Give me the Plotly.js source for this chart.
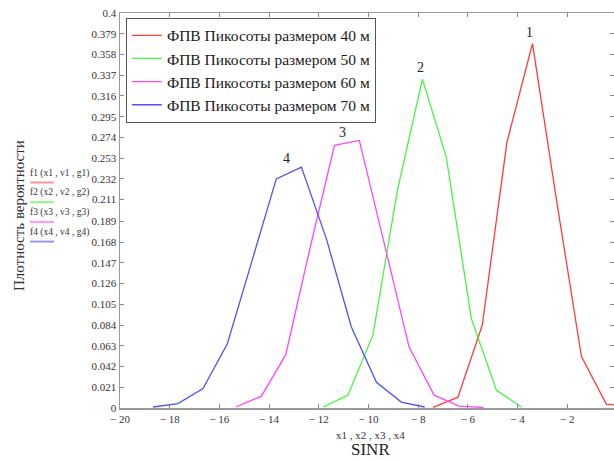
<!DOCTYPE html>
<html>
<head>
<meta charset="utf-8">
<script src="https://cdn.plot.ly/plotly-3.0.1.min.js"></script>
<style>html,body{margin:0;padding:0;background:#fff;}#chart{width:614px;height:460px;}</style>
</head>
<body>
<div id="chart"></div>
<script>
// Series data
var seriesNames = ["ФПВ Пикосоты размером 40 м", "ФПВ Пикосоты размером 50 м", "ФПВ Пикосоты размером 60 м", "ФПВ Пикосоты размером 70 м"];
var x1 = [-7.4, -6.4, -5.42, -4.43, -3.4, -2.43, -1.43, -0.43, 0.57];
var y1 = [0.0007, 0.011, 0.084, 0.269, 0.369, 0.21, 0.052, 0.004, 0.001];
var x2 = [-11.83, -10.83, -9.82, -8.84, -7.83, -6.87, -5.86, -4.85, -3.85];
var y2 = [0.001, 0.013, 0.074, 0.22, 0.333, 0.254, 0.0905, 0.018, 0.001];
var x3 = [-15.34, -14.31, -13.33, -12.37, -11.37, -10.37, -9.37, -8.37, -7.36, -6.36, -5.37];
var y3 = [0.001, 0.012, 0.054, 0.16, 0.266, 0.271, 0.167, 0.062, 0.013, 0.002, 0.0005];
var x4 = [-18.67, -17.67, -16.66, -15.68, -14.7, -13.71, -12.7, -11.69, -10.69, -9.68, -8.68, -7.74];
var y4 = [0.001, 0.0044, 0.0196, 0.065, 0.148, 0.232, 0.244, 0.171, 0.082, 0.026, 0.006, 0.001];

var xTickVals = [-20, -18, -16, -14, -12, -10, -8, -6, -4, -2];
var xTickText = ["− 20", "− 18", "− 16", "− 14", "− 12", "− 10", "− 8", "− 6", "− 4", "− 2"];
var yTickText = ["0", "0.021", "0.042", "0.063", "0.084", "0.105", "0.126", "0.147", "0.168", "0.189", "0.211", "0.232", "0.253", "0.274", "0.295", "0.316", "0.337", "0.358", "0.379", "0.4"];

var peakLabels = ["1", "2", "3", "4"];
var peakLabelX = [-3.51, -7.9, -11.04, -13.29];
var peakLabelY = [0.380, 0.345, 0.279, 0.253];

var funcLabels = ["f1 (x1 , v1 , g1)", "f2 (x2 , v2 , g2)", "f3 (x3 , v3 , g3)", "f4 (x4 , v4 , g4)"];

var colors = ["rgb(255,60,60)", "rgb(70,245,70)", "rgb(255,70,255)", "rgb(80,80,255)"];
var lightColors = ["rgb(255,150,150)", "rgb(140,245,140)", "rgb(255,150,255)", "rgb(150,150,255)"];

var serif = "'Liberation Serif', serif";
var xs = [x1, x2, x3, x4], ys = [y1, y2, y3, y4];
var traces = [];
for (var i = 0; i < 4; i++) {
  traces.push({x: xs[i], y: ys[i], type: "scatter", mode: "lines", name: seriesNames[i],
    line: {color: colors[i], width: 1.3}, cliponaxis: true});
}

var annotations = [];
for (var i = 0; i < 4; i++) {
  annotations.push({x: peakLabelX[i], y: peakLabelY[i], xref: "x", yref: "y", text: peakLabels[i],
    showarrow: false, font: {family: serif, size: 14, color: "#222"}});
}
var shapes = [];
var W = 494, H = 395;
for (var i = 0; i < 4; i++) {
  var ty = 173 + i * 19.7;
  annotations.push({x: (28 - 120) / W, y: (408 - ty) / H, xref: "paper", yref: "paper", xanchor: "left", yanchor: "middle",
    text: funcLabels[i], showarrow: false, font: {family: serif, size: 9.5, color: "#333"}});
  var ly = (408 - (ty + 9.5)) / H;
  shapes.push({type: "line", xref: "paper", yref: "paper", x0: (30 - 120) / W, x1: (54 - 120) / W, y0: ly, y1: ly,
    line: {color: lightColors[i], width: 2}});
}
annotations.push({x: (19 - 120) / W, y: (408 - 216) / H, xref: "paper", yref: "paper", text: "Плотность вероятности",
  textangle: -90, showarrow: false, xanchor: "center", yanchor: "middle", font: {family: serif, size: 15, color: "#333"}});
annotations.push({x: (370 - 120) / W, y: (408 - 435) / H, xref: "paper", yref: "paper", text: "x1 , x2 , x3 , x4",
  showarrow: false, xanchor: "center", yanchor: "middle", font: {family: serif, size: 11, color: "#333"}});
annotations.push({x: (370 - 120) / W, y: (408 - 449) / H, xref: "paper", yref: "paper", text: "SINR",
  showarrow: false, xanchor: "center", yanchor: "middle", font: {family: serif, size: 17, color: "#222"}});

var layout = {
  width: 614, height: 460,
  margin: {l: 120, r: 0, t: 13, b: 52, pad: 0},
  paper_bgcolor: "#fff", plot_bgcolor: "#fff",
  font: {family: serif},
  showlegend: true,
  legend: {x: 0.012, y: 0.988, xanchor: "left", yanchor: "top", bgcolor: "#fff", bordercolor: "#555", borderwidth: 1,
    font: {family: serif, size: 15.5, color: "#1a1a1a"}, tracegroupgap: 0},
  xaxis: {range: [-20, -0.12], tickvals: xTickVals, ticktext: xTickText, ticks: "inside", ticklen: 4, tickcolor: "#888",
    showline: true, linecolor: "#999", linewidth: 1.5, mirror: "ticks", showgrid: false, zeroline: false,
    tickfont: {family: serif, size: 11, color: "#333"}, fixedrange: true},
  yaxis: {range: [0, 0.4], tickvals: yTickText.map(Number), ticktext: yTickText, ticks: "inside", ticklen: 4, tickcolor: "#888",
    showline: true, linecolor: "#999", linewidth: 1.5, mirror: "ticks", showgrid: false, zeroline: false,
    tickfont: {family: serif, size: 11, color: "#333"}, fixedrange: true},
  annotations: annotations,
  shapes: shapes
};
Plotly.newPlot("chart", traces, layout, {staticPlot: true, displayModeBar: false});
</script>
</body>
</html>
